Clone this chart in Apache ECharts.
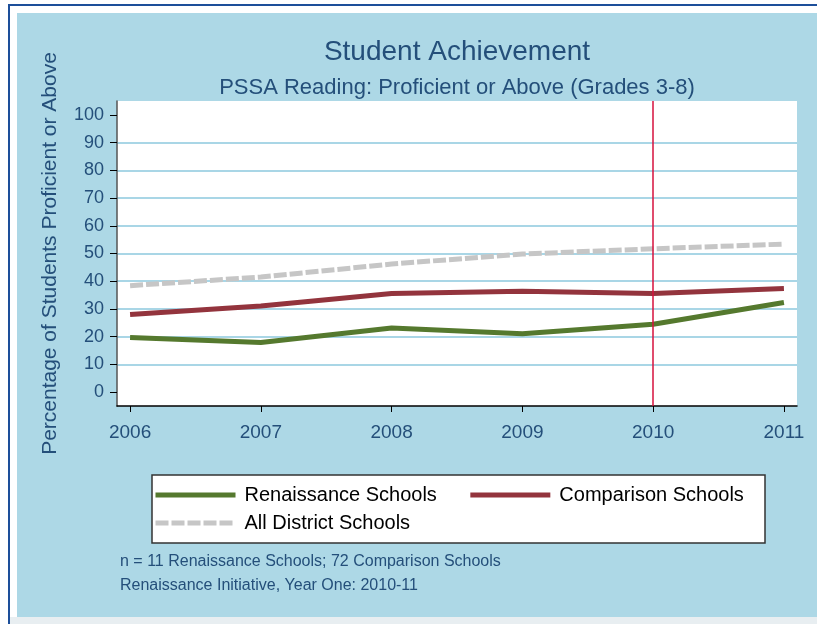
<!DOCTYPE html>
<html>
<head>
<meta charset="utf-8">
<script src="https://cdn.jsdelivr.net/npm/echarts@6/dist/echarts.min.js"></script>
<style>
body { margin: 0; background: #fff; }
.frame { position: absolute; left: 8px; top: 4px; width: 900px; height: 700px; border: 2px solid #1d4f9a; }
.panel { position: absolute; left: 17px; top: 13px; width: 800px; height: 604px; background: #add8e6; }
.strip { position: absolute; left: 10px; top: 617px; width: 807px; height: 7px; background: #e8eef1; }
#chart { position: absolute; left: 0; top: 0; width: 817px; height: 624px; }
</style>
</head>
<body>
<div class="frame"></div>
<div class="panel"></div>
<div class="strip"></div>
<div id="chart"></div>
<script>
const years = [2006, 2007, 2008, 2009, 2010, 2011]
const renaissance = [19.7, 17.9, 23.1, 21.1, 24.5, 32.3]
const comparison = [28.0, 31.1, 35.6, 36.4, 35.6, 37.4]
const district = [38.4, 41.5, 46.2, 49.8, 51.7, 53.4]
const yTicks = [0, 10, 20, 30, 40, 50, 60, 70, 80, 90, 100]
const startYear = 2010

const textBlue = '#244f7a'

function pairs(vals) {
    return years.map((y, i) => [y, vals[i]])
}

const chart = echarts.init(document.getElementById('chart'))

// grid lines only between 0 and 100, not at the ends
const gridColors = yTicks.map((t, i) => (i === 0 || i === yTicks.length - 1) ? 'rgba(0,0,0,0)' : '#a9d6e6')

const legendBase = {
    padding: 0, itemWidth: 80, itemHeight: 14, itemGap: 31,
    itemStyle: { opacity: 0 },
    lineStyle: { width: 5 },
    textStyle: { fontSize: 20, color: '#000', padding: [0, 0, 0, 4] }
}

chart.setOption({
    animation: false,
    textStyle: { fontFamily: 'Liberation Sans, Arial, sans-serif' },
    title: [
        { text: 'Student Achievement', left: 457, top: 38, textAlign: 'center', padding: 0,
          textStyle: { fontSize: 28, fontWeight: 'normal', color: textBlue } },
        { text: 'PSSA Reading: Proficient or Above (Grades 3-8)', left: 457, top: 77, textAlign: 'center', padding: 0,
          textStyle: { fontSize: 22, fontWeight: 'normal', color: textBlue } },
        { text: 'n = 11 Renaissance Schools; 72 Comparison Schools', left: 120, top: 554, padding: 0,
          textStyle: { fontSize: 16, fontWeight: 'normal', color: textBlue } },
        { text: 'Renaissance Initiative, Year One: 2010-11', left: 120, top: 578, padding: 0,
          textStyle: { fontSize: 16, fontWeight: 'normal', color: textBlue } }
    ],
    graphic: [
        { type: 'rect', z: 1, shape: { x: 152, y: 475, width: 613, height: 68 },
          style: { fill: '#fff', stroke: '#333', lineWidth: 1.5 } }
    ],
    legend: [
        Object.assign({ data: ['Renaissance Schools', 'Comparison Schools'], left: 153, top: 485 }, legendBase),
        Object.assign({ data: ['All District Schools'], left: 153, top: 513 }, legendBase)
    ],
    grid: { left: 117, top: 101, width: 680, height: 305, show: true, backgroundColor: '#fff', borderWidth: 0 },
    xAxis: {
        type: 'value', min: 2005.9, max: 2011.1,
        axisLine: { show: true, onZero: false, lineStyle: { color: '#000', width: 1.5 } },
        axisTick: { show: true, length: 6, customValues: years, lineStyle: { color: '#000' } },
        axisLabel: { customValues: years, formatter: v => String(v), fontSize: 19, color: textBlue, margin: 17 },
        splitLine: { show: false }
    },
    yAxis: {
        type: 'value', min: -5, max: 105,
        name: 'Percentage of Students Proficient or Above', nameLocation: 'middle', nameGap: 56,
        nameTextStyle: { fontSize: 21, color: textBlue },
        axisLine: { show: true, lineStyle: { color: '#555', width: 1.5 } },
        axisTick: { show: true, length: 7, customValues: yTicks, lineStyle: { color: '#000' } },
        axisLabel: { customValues: yTicks, fontSize: 18, color: textBlue, margin: 13 },
        splitLine: { show: true, lineStyle: { color: gridColors, width: 2 } }
    },
    series: [
        { name: 'All District Schools', type: 'line', symbol: 'none', data: pairs(district),
          lineStyle: { color: '#c6c6c6', width: 5, type: [13, 3] }, itemStyle: { color: '#c6c6c6' } },
        { name: 'Comparison Schools', type: 'line', symbol: 'none', data: pairs(comparison),
          lineStyle: { color: '#93343d', width: 5 }, itemStyle: { color: '#93343d' } },
        { name: 'Renaissance Schools', type: 'line', symbol: 'none', data: pairs(renaissance),
          lineStyle: { color: '#55792e', width: 5 }, itemStyle: { color: '#55792e' },
          markLine: { silent: true, symbol: 'none', label: { show: false },
            lineStyle: { color: '#d6103c', width: 1.5, type: 'solid' },
            data: [{ xAxis: startYear }] } }
    ]
})
</script>
</body>
</html>
